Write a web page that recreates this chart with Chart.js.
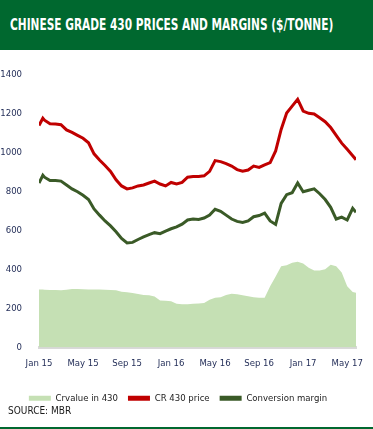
<!DOCTYPE html>
<html>
<head>
<meta charset="utf-8">
<script src="https://cdn.jsdelivr.net/npm/chart.js@4/dist/chart.umd.min.js"></script>
<style>
  body { margin: 0; width: 373px; height: 429px; overflow: hidden; background: #fff; position: relative; }
  #head { position: absolute; left: 0; top: 0; width: 373px; height: 50px; background: #00682f; }
  #head span { position: absolute; left: 10px; top: 15px; white-space: nowrap; color: #fff; transform-origin: 0 50%;
    font: bold 16px "Liberation Sans Narrow", "DejaVu Sans Condensed", sans-serif; }
  #wrap { position: absolute; left: 0; top: 0; width: 373px; height: 429px; }
  #source { position: absolute; left: 8px; top: 405px; white-space: nowrap; font: 10px "DejaVu Sans Condensed", sans-serif; color: #1a1a1a; }
  #foot { position: absolute; left: 0; top: 427px; width: 373px; height: 2px; background: #00682f; }
</style>
</head>
<body>
<div id="wrap"><canvas id="chart" width="373" height="429"></canvas></div>
<div id="head"><span id="title">CHINESE GRADE 430 PRICES AND MARGINS ($/TONNE)</span></div>
<div id="source">SOURCE: MBR</div>
<div id="foot"></div>
<script>
// months since Jan 2015
const months = [0, 0.35, 0.5, 1, 1.5, 2, 2.5, 3, 3.5, 4, 4.5, 5, 5.5, 6, 6.5, 7, 7.5, 8, 8.5, 9, 9.5,
  10, 10.5, 11, 11.5, 12, 12.5, 13, 13.5, 14, 14.5, 15, 15.5, 16, 16.5, 17, 17.5, 18, 18.5, 19, 19.5,
  20, 20.5, 21, 21.5, 22, 22.5, 23, 23.5, 24, 24.5, 25, 25.5, 26, 26.5, 27, 27.5, 28, 28.5, 28.8];

const crPrice = [1140, 1178, 1168, 1150, 1148, 1145, 1118, 1105, 1090, 1075, 1052, 995, 963, 935, 905, 862, 830, 815, 820, 830, 835,
  845, 855, 840, 830, 848, 840, 848, 875, 878, 878, 882, 905, 960, 955, 945, 932, 914, 906, 912, 932,
  925, 938, 950, 1010, 1120, 1205, 1240, 1275, 1215, 1203, 1200, 1180, 1160, 1130, 1090, 1050, 1018, 985, 965];

const margin = [845, 885, 875, 858, 858, 855, 835, 815, 800, 782, 760, 712, 680, 650, 625, 595, 560, 537, 540, 555, 568,
  580, 590, 585, 598, 610, 620, 634, 655, 660, 658, 665, 680, 710, 700, 680, 660, 648, 642, 650, 672,
  678, 690, 650, 632, 740, 785, 795, 845, 800, 808, 815, 790, 760, 720, 660, 670, 655, 715, 695];

const crValue = [298, 298, 297, 296, 295, 294, 297, 300, 300, 299, 298, 298, 298, 297, 296, 294, 287, 284, 280, 275, 270,
  268, 262, 242, 240, 238, 225, 222, 222, 225, 226, 228, 245, 255, 258, 270, 276, 273, 268, 263, 258,
  255, 255, 315, 365, 418, 422, 435, 440, 432, 410, 396, 396, 402, 425, 418, 385, 315, 285, 281];

const tickMonths = [0, 4, 8, 12, 16, 20, 24, 28];
const tickLabels = ["Jan 15", "May 15", "Sep 15", "Jan 16", "May 16", "Sep 16", "Jan 17", "May 17"];

// squeeze the title into the width it has in the original
const title = document.getElementById("title");
title.style.transform = "scaleX(" + (323 / title.offsetWidth) + ")";

const pts = (vals) => vals.map((v, i) => ({ x: months[i], y: v }));
const font = { family: '"DejaVu Sans Condensed", sans-serif', size: 9.5 };

new Chart(document.getElementById("chart"), {
  type: "line",
  data: {
    datasets: [
      {
        label: "Crvalue in 430",
        data: pts(crValue),
        backgroundColor: "#c5e0b4",
        borderWidth: 0,
        fill: "origin",
        pointRadius: 0,
        order: 3,
      },
      {
        label: "CR 430 price",
        data: pts(crPrice),
        borderColor: "#c00000",
        backgroundColor: "#c00000",
        borderWidth: 3,
        pointRadius: 0,
        order: 1,
      },
      {
        label: "Conversion margin",
        data: pts(margin),
        borderColor: "#3a5a27",
        backgroundColor: "#3a5a27",
        borderWidth: 3,
        pointRadius: 0,
        order: 2,
      },
    ],
  },
  options: {
    responsive: false,
    animation: false,
    layout: { padding: { top: 75, left: 0, right: 17, bottom: 16 } },
    scales: {
      x: {
        type: "linear",
        min: 0,
        max: 28.8,
        grid: { display: false },
        border: { display: true, color: "#d9d9d9", width: 3 },
        afterBuildTicks: (s) => { s.ticks = tickMonths.map((v) => ({ value: v })); },
        afterFit: (s) => { s.height = 36; },
        ticks: {
          color: "#1f2a55",
          font: font,
          padding: 2,
          maxRotation: 0,
          callback: (v) => tickLabels[tickMonths.indexOf(v)],
        },
      },
      y: {
        min: 0,
        max: 1400,
        grid: { display: false },
        border: { display: false },
        afterFit: (s) => { s.width = 39; },
        ticks: { stepSize: 200, color: "#1f2a55", font: font, padding: 9, callback: (v) => String(v) },
      },
    },
    plugins: {
      legend: {
        position: "bottom",
        labels: {
          color: "#1a1a1a",
          font: font,
          boxWidth: 22,
          boxHeight: 5,
          padding: 10,
          generateLabels: (chart) =>
            chart.data.datasets.map((d, i) => ({
              text: d.label,
              fillStyle: d.backgroundColor,
              strokeStyle: d.backgroundColor,
              lineWidth: 0,
              datasetIndex: i,
              fontColor: "#1a1a1a",
            })),
        },
      },
      tooltip: { enabled: false },
    },
  },
});
</script>
</body>
</html>
